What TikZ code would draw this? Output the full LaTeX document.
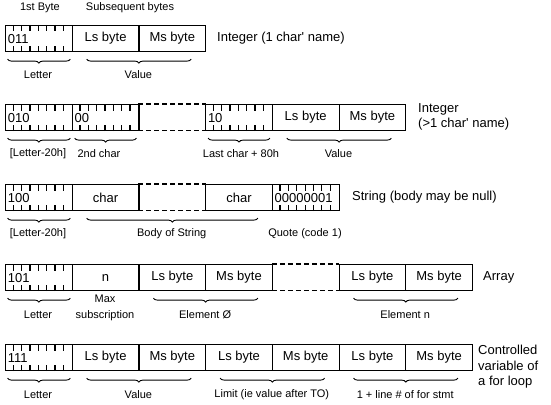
\documentclass[tikz,border=0pt]{standalone}
\usepackage{fontspec}
\setmainfont{Liberation Sans}
\usetikzlibrary{decorations.pathreplacing,calc}
\tikzset{
  cell/.style={draw, line width=1.1pt, minimum width=66.7pt, minimum height=26pt,
    inner sep=0pt, font=\fontsize{13}{15}\selectfont, anchor=north west},
  gapcell/.style={minimum width=66.7pt, minimum height=26pt, inner sep=0pt, anchor=north west},
  bits/.style={cell, text width=62pt, align=left},
  bittick/.style={line width=1.3pt, black},
  lab/.style={font=\fontsize{11}{15.5}\selectfont, inner sep=0pt, align=center},
  side/.style={font=\fontsize{13}{15.5}\selectfont, inner sep=0pt, anchor=west, align=left},
  brc/.style={decorate, decoration={brace, mirror, amplitude=4pt}, line width=0.9pt},
  dsh/.style={dash pattern=on 5pt off 3pt, line width=1.1pt}
}
\begin{document}
\begin{tikzpicture}[x=1pt,y=-1pt]
\useasboundingbox (0,0) rectangle (551,404);

% top labels
\node[lab] (t1) at (40,8) {1st Byte};
\node[lab] (t2) at (130,8) {Subsequent bytes};

% ---------- Row 1 ----------
\node[bits] (r1a) at (5,25) {011};
\node[cell] (r1b) at (71.7,25) {Ls byte};
\node[cell] (r1c) at (138.4,25) {Ms byte};
\node[side] (s1) at (217,38) {Integer (1 char\textquotesingle\ name)};
\draw[brc] ($(r1a.south west)+(2.5,7)$) -- ($(r1a.south east)+(-2.5,7)$);
\draw[brc] ($(r1b.south west)+(15,7)$) -- ($(r1c.south east)+(-15,7)$);
\node[lab] (l1a) at (38,75) {Letter};
\node[lab] (l1b) at (138.4,75) {Value};

% ---------- Row 2 ----------
\node[bits] (r2a) at (5,104) {010};
\node[bits] (r2b) at (71.7,104) {00};
\node[gapcell] (r2g) at (138.4,104) {};
\draw[dsh] (r2g.north west) -- (r2g.north east);
\draw[dsh] (r2g.south west) -- (r2g.south east);
\node[bits] (r2d) at (205.1,104) {10};
\node[cell] (r2e) at (271.8,104) {Ls byte};
\node[cell] (r2f) at (338.5,104) {Ms byte};
\node[side] (s2) at (418,117) {Integer\\(>1 char\textquotesingle\ name)};
\draw[brc] ($(r2a.south west)+(2.5,7)$) -- ($(r2a.south east)+(-2.5,7)$);
\draw[brc] ($(r2b.south west)+(3,7)$) -- ($(r2b.south east)+(-3,7)$);
\draw[brc] ($(r2d.south west)+(3,7)$) -- ($(r2d.south east)+(-3,7)$);
\draw[brc] ($(r2e.south west)+(15,7)$) -- ($(r2f.south east)+(-15,7)$);
\node[lab] (l2a) at (38,154) {[Letter-20h]};
\node[lab] (l2b) at (99,154) {2nd char};
\node[lab] (l2c) at (241,154) {Last char + 80h};
\node[lab] (l2d) at (338.5,154) {Value};

% ---------- Row 3 ----------
\node[bits] (r3a) at (5,184) {100};
\node[cell] (r3b) at (71.7,184) {char};
\node[gapcell] (r3g) at (138.4,184) {};
\draw[dsh] (r3g.north west) -- (r3g.north east);
\draw[dsh] (r3g.south west) -- (r3g.south east);
\node[cell] (r3d) at (205.1,184) {char};
\node[bits] (r3e) at (271.8,184) {00000001};
\node[side] (s3) at (352,197) {String (body may be null)};
\draw[brc] ($(r3a.south west)+(2.5,7)$) -- ($(r3a.south east)+(-2.5,7)$);
\draw[brc] ($(r3b.south west)+(15,7)$) -- ($(r3d.south east)+(-15,7)$);
\node[lab] (l3a) at (38,234) {[Letter-20h]};
\node[lab] (l3b) at (171.7,234) {Body of String};
\node[lab] (l3c) at (305,234) {Quote (code 1)};

% ---------- Row 4 ----------
\node[bits] (r4a) at (5,264) {101};
\node[cell] (r4b) at (71.7,264) {n};
\node[cell] (r4c) at (138.4,264) {Ls byte};
\node[cell] (r4d) at (205.1,264) {Ms byte};
\node[gapcell] (r4g) at (271.8,264) {};
\draw[dsh] (r4g.north west) -- (r4g.north east);
\draw[dsh] (r4g.south west) -- (r4g.south east);
\node[cell] (r4e) at (338.5,264) {Ls byte};
\node[cell] (r4f) at (405.2,264) {Ms byte};
\node[side] (s4) at (483,277) {Array};
\draw[brc] ($(r4a.south west)+(2.5,7)$) -- ($(r4a.south east)+(-2.5,7)$);
\draw[brc] ($(r4c.south west)+(15,7)$) -- ($(r4d.south east)+(-15,7)$);
\draw[brc] ($(r4e.south west)+(15,7)$) -- ($(r4f.south east)+(-15,7)$);
\node[lab] (l4a) at (38,315) {Letter};
\node[lab] (l4b) at (105,308) {Max\\subscription};
\node[lab] (l4c) at (205.1,315) {Element Ø};
\node[lab] (l4d) at (405.2,315) {Element n};

% ---------- Row 5 ----------
\node[bits] (r5a) at (5,344) {111};
\node[cell] (r5b) at (71.7,344) {Ls byte};
\node[cell] (r5c) at (138.4,344) {Ms byte};
\node[cell] (r5d) at (205.1,344) {Ls byte};
\node[cell] (r5e) at (271.8,344) {Ms byte};
\node[cell] (r5f) at (338.5,344) {Ls byte};
\node[cell] (r5g) at (405.2,344) {Ms byte};
\node[side] (s5) at (478,367) {Controlled\\variable of\\a for loop};
\draw[brc] ($(r5a.south west)+(2.5,7)$) -- ($(r5a.south east)+(-2.5,7)$);
\draw[brc] ($(r5b.south west)+(15,7)$) -- ($(r5c.south east)+(-15,7)$);
\draw[brc] ($(r5d.south west)+(15,7)$) -- ($(r5e.south east)+(-15,7)$);
\draw[brc] ($(r5f.south west)+(15,7)$) -- ($(r5g.south east)+(-15,7)$);
\node[lab] (l5a) at (38,395) {Letter};
\node[lab] (l5b) at (138.4,395) {Value};
\node[lab] (l5c) at (271.8,395) {Limit (ie value after TO)};
\node[lab] (l5d) at (405.2,395) {1 + line \# of for stmt};

% bit ticks in the byte cells
\foreach \n in {r1a,r2a,r2b,r2d,r3a,r3e,r4a,r5a}{
  \foreach \i in {1,...,7}{
    \draw[bittick] ($(\n.north west)+(\i*8.3375,0)$) -- +(0,6.5);
    \draw[bittick] ($(\n.south west)+(\i*8.3375,0)$) -- +(0,-6);
  }
}
\end{tikzpicture}
\end{document}
